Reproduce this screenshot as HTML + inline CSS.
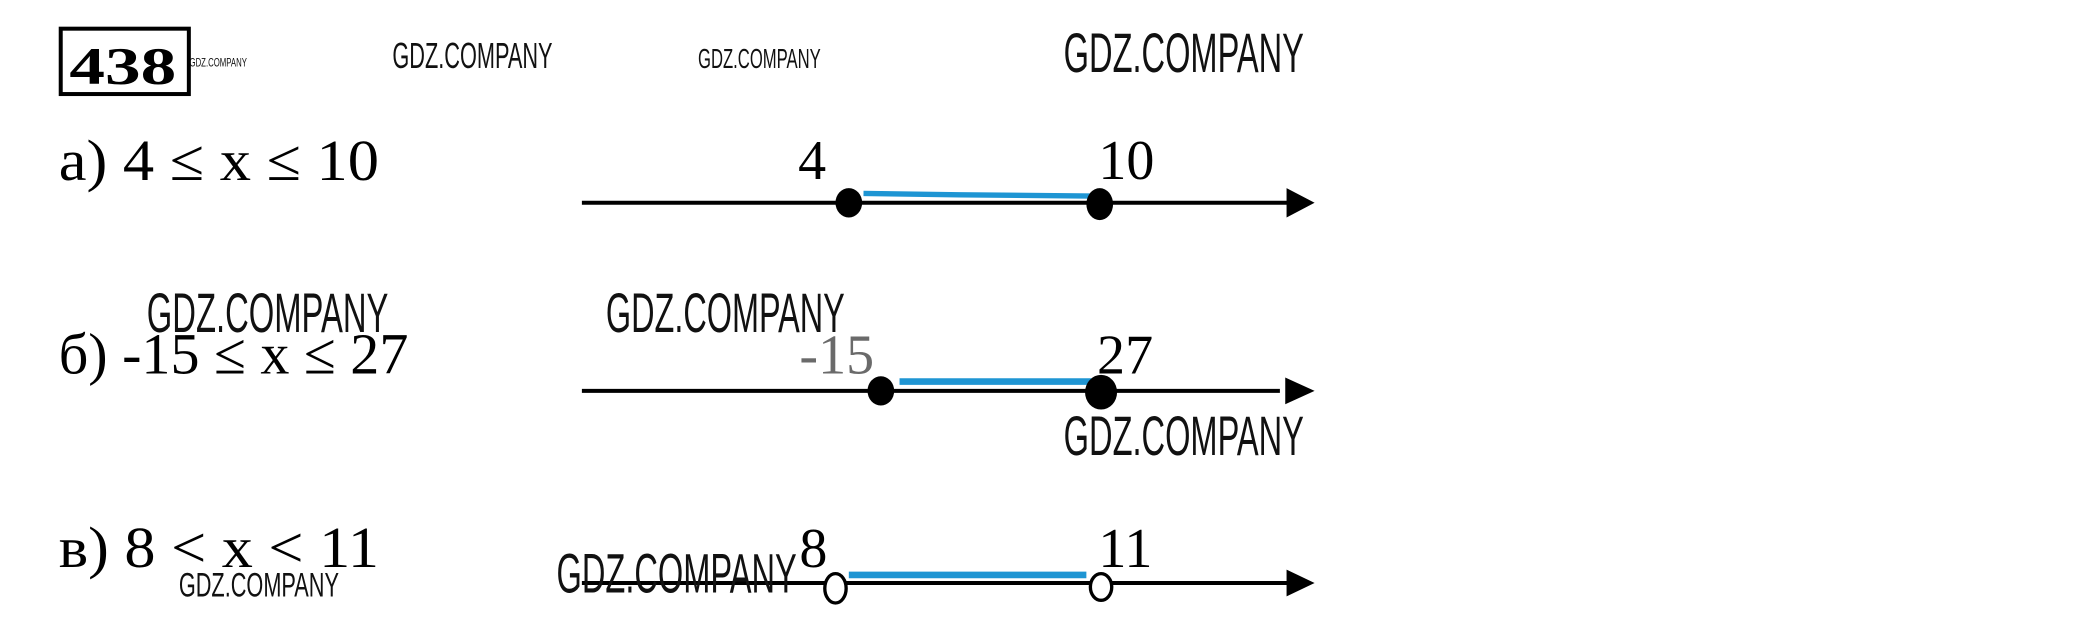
<!DOCTYPE html>
<html><head><meta charset="utf-8"><style>
html,body{margin:0;padding:0;background:#fff;width:2082px;height:627px;overflow:hidden}
svg{display:block}
.wm{font-family:"Liberation Sans Narrow","Liberation Sans",sans-serif;fill:#111;font-weight:normal}
.t{font-family:"Liberation Serif",serif;fill:#000}
</style></head><body>
<svg width="2082" height="627" viewBox="0 0 1560 470" preserveAspectRatio="none">
<g transform="translate(-1,0)">
<rect x="46.5" y="21.5" width="96" height="49" fill="none" stroke="#000" stroke-width="3"/>
<text class="t" x="53" y="63" font-size="40" font-weight="bold" textLength="80" lengthAdjust="spacingAndGlyphs">438</text>
<text class="wm" x="143" y="50" font-size="9" textLength="43" lengthAdjust="spacingAndGlyphs">GDZ.COMPANY</text>
<text class="wm" x="295" y="51" font-size="27" textLength="120" lengthAdjust="spacingAndGlyphs">GDZ.COMPANY</text>
<text class="wm" x="524" y="51" font-size="21" textLength="92" lengthAdjust="spacingAndGlyphs">GDZ.COMPANY</text>
<text class="wm" x="798" y="54" font-size="42" textLength="180" lengthAdjust="spacingAndGlyphs">GDZ.COMPANY</text>

<text class="t" x="45" y="135" font-size="44" textLength="240" lengthAdjust="spacingAndGlyphs">а) 4 ≤ x ≤ 10</text>
<text class="t" x="599" y="134" font-size="42">4</text>
<text class="t" x="824" y="134" font-size="42">10</text>
<line x1="437" y1="152" x2="970" y2="152" stroke="#000" stroke-width="3"/>
<polygon points="965,141 986,152 965,163" fill="#000"/>
<polyline points="648,145 720,146 820,147" fill="none" stroke="#1e95d3" stroke-width="4"/>
<ellipse cx="637" cy="152" rx="10" ry="11" fill="#000"/>
<ellipse cx="825" cy="153" rx="10" ry="12" fill="#000"/>

<text class="wm" x="111" y="249" font-size="42" textLength="181" lengthAdjust="spacingAndGlyphs">GDZ.COMPANY</text>
<text class="wm" x="455" y="249" font-size="42" textLength="179" lengthAdjust="spacingAndGlyphs">GDZ.COMPANY</text>
<text class="t" x="45" y="280" font-size="44" textLength="262" lengthAdjust="spacingAndGlyphs">б) -15 ≤ x ≤ 27</text>
<text class="t" x="600" y="280" font-size="42" style="fill:#6a6a6a">-15</text>
<text class="t" x="823" y="280" font-size="42">27</text>
<line x1="437" y1="293" x2="960" y2="293" stroke="#000" stroke-width="3"/>
<polygon points="964,283 986,293 964,303" fill="#000"/>
<line x1="675" y1="286" x2="820" y2="286" stroke="#1e95d3" stroke-width="5"/>
<ellipse cx="661" cy="293" rx="10" ry="11" fill="#000"/>
<ellipse cx="826" cy="294" rx="12" ry="13" fill="#000"/>
<text class="wm" x="798" y="341" font-size="42" textLength="180" lengthAdjust="spacingAndGlyphs">GDZ.COMPANY</text>

<text class="t" x="45" y="425" font-size="44" textLength="240" lengthAdjust="spacingAndGlyphs">в) 8 &lt; x &lt; 11</text>
<text class="wm" x="135" y="447" font-size="26" textLength="120" lengthAdjust="spacingAndGlyphs">GDZ.COMPANY</text>
<text class="t" x="600" y="425" font-size="42">8</text>
<text class="t" x="824" y="425" font-size="42">11</text>
<line x1="437" y1="437" x2="970" y2="437" stroke="#000" stroke-width="3"/>
<polygon points="965,427 986,437 965,447" fill="#000"/>
<text class="wm" x="418" y="444" font-size="42" textLength="180" lengthAdjust="spacingAndGlyphs">GDZ.COMPANY</text>
<line x1="637" y1="431" x2="815" y2="431" stroke="#1e95d3" stroke-width="5"/>
<ellipse cx="627" cy="441" rx="8" ry="11" fill="#fff" stroke="#000" stroke-width="2.5"/>
<ellipse cx="826" cy="440" rx="8" ry="10" fill="#fff" stroke="#000" stroke-width="2.5"/>
</g>
</svg>
</body></html>
